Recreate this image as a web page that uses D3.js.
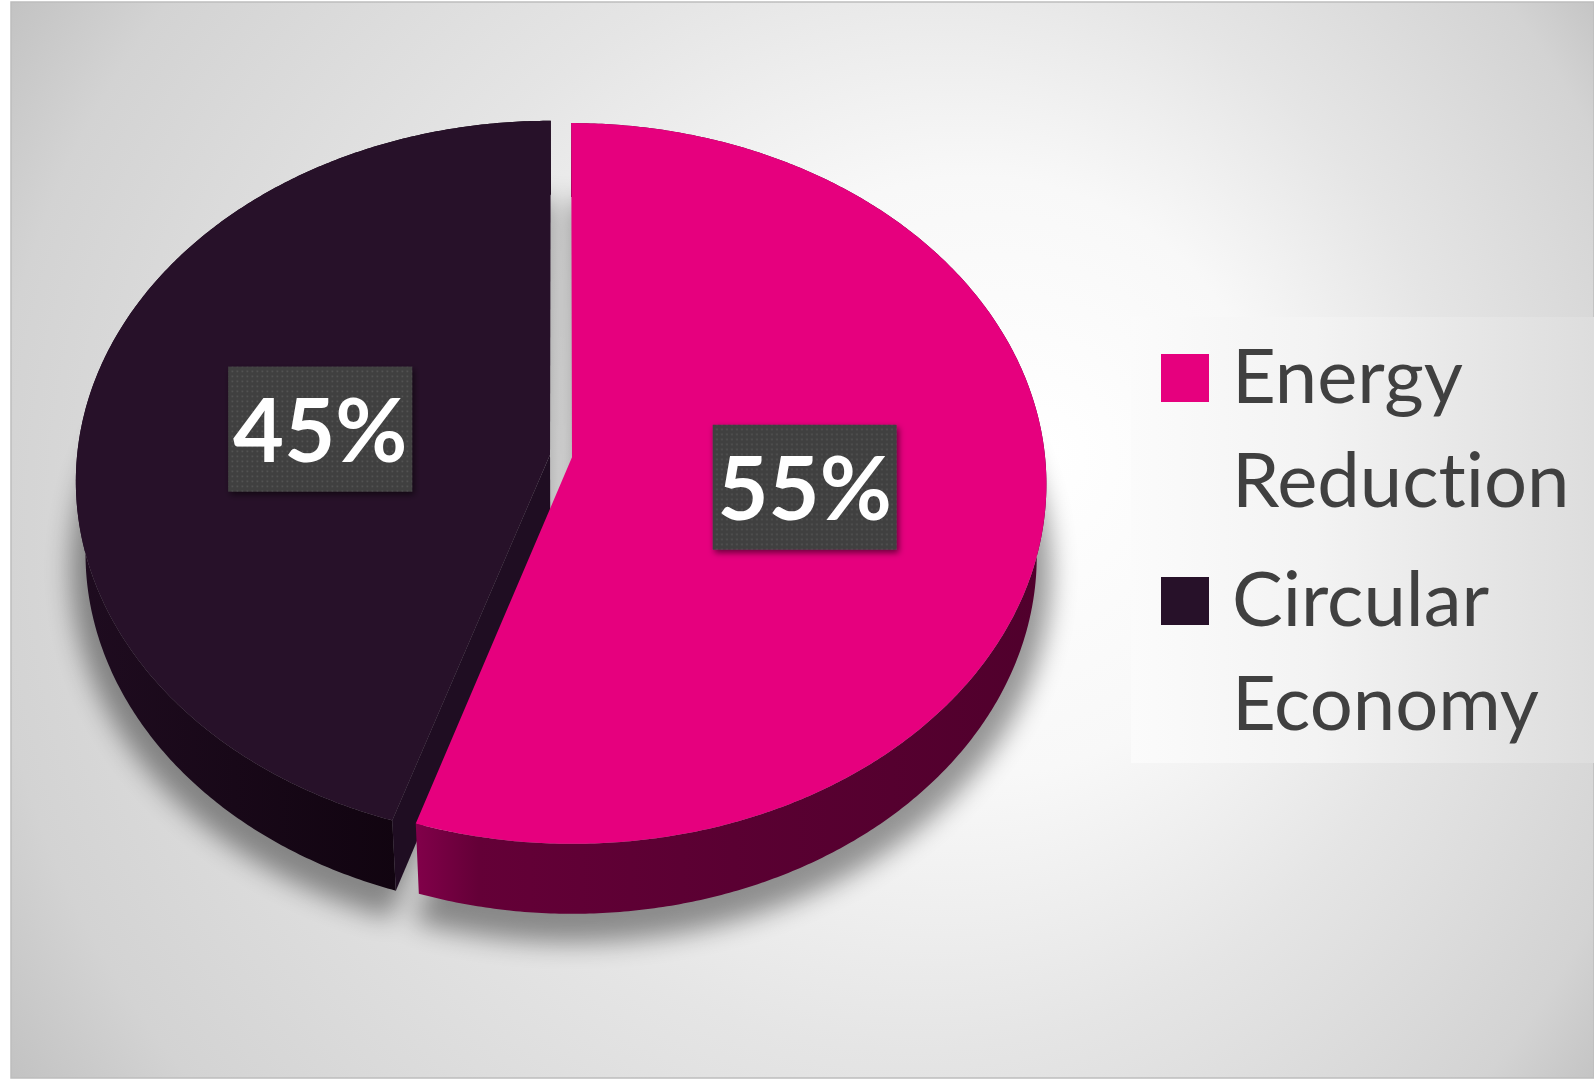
<!DOCTYPE html>
<html><head><meta charset="utf-8">
<script src="https://cdn.jsdelivr.net/npm/d3@7"></script>
<style>html,body{margin:0;padding:0;background:#fff;overflow:hidden} text{font-variant-ligatures:none;font-feature-settings:"liga" 0,"clig" 0}</style>
</head><body>
<svg id="chart" width="1594" height="1081"></svg>
<script>
// ---- data ----
const categories = ["Energy Reduction", "Circular Economy"];
const values = [55, 45];
const percentLabels = ["55%", "45%"];

// ---- setup ----
const W = 1594, H = 1081;
const svg = d3.select("#chart");
const defs = svg.append("defs");

const topColor = d3.scaleOrdinal().domain(categories).range(["#E6007E", "#271129"]);
const faceColor = d3.scaleOrdinal().domain(categories).range(["#6a0039", "#1f0d22"]);

// background gradient
const bg = defs.append("radialGradient").attr("id", "bg").attr("gradientUnits", "userSpaceOnUse")
  .attr("cx", 800).attr("cy", 540).attr("r", 1000).attr("fx", 1050).attr("fy", 450);
[[0, "#ffffff"], [0.3, "#f8f8f8"], [0.55, "#e5e5e5"], [0.85, "#d3d3d3"], [1, "#bdbdbd"]]
  .forEach(([o, c]) => bg.append("stop").attr("offset", o).attr("stop-color", c));

svg.append("rect").attr("x", 11).attr("y", 2).attr("width", W - 11).attr("height", 1076)
  .attr("fill", "url(#bg)").attr("stroke", "#bdbdbd").attr("stroke-width", 1.5);

// side gradients
const gPink = defs.append("linearGradient").attr("id", "sidePink").attr("gradientUnits", "userSpaceOnUse")
  .attr("x1", 415).attr("x2", 1050).attr("y1", 0).attr("y2", 0);
[[0, "#82004a"], [0.1, "#640037"], [0.5, "#5a0032"], [1, "#50002c"]]
  .forEach(([o, c]) => gPink.append("stop").attr("offset", o).attr("stop-color", c));
const gDark = defs.append("linearGradient").attr("id", "sideDark").attr("gradientUnits", "userSpaceOnUse")
  .attr("x1", 70).attr("x2", 400).attr("y1", 0).attr("y2", 0);
[[0, "#1f0c20"], [1, "#110410"]]
  .forEach(([o, c]) => gDark.append("stop").attr("offset", o).attr("stop-color", c));
const sideFill = d3.scaleOrdinal().domain(categories).range(["url(#sidePink)", "url(#sideDark)"]);

// filters
const blur = defs.append("filter").attr("id", "shadowBlur").attr("x", "-20%").attr("y", "-20%").attr("width", "140%").attr("height", "140%");
blur.append("feGaussianBlur").attr("stdDeviation", 13);
const drop = defs.append("filter").attr("id", "boxShadow").attr("x", "-20%").attr("y", "-20%").attr("width", "140%").attr("height", "140%");
drop.append("feDropShadow").attr("dx", 2).attr("dy", 3).attr("stdDeviation", 3).attr("flood-color", "#000").attr("flood-opacity", 0.55);

// dotted pattern
const pat = defs.append("pattern").attr("id", "dots").attr("patternUnits", "userSpaceOnUse").attr("width", 5).attr("height", 5);
pat.append("rect").attr("width", 5).attr("height", 5).attr("fill", "#404040");
pat.append("rect").attr("x", 1.5).attr("y", 1.5).attr("width", 1.6).attr("height", 1.6).attr("fill", "#565656");

// ---- 3D projection ----
const S = 0.7575;
const P = { cx: 561, cy: 456, f: 4257, D: 9, s: S, c: Math.sqrt(1 - S * S), h: 0.24, e: 0.0235 };
function proj(theta, r, y, mid) {
  const X = r * Math.sin(theta) + P.e * Math.sin(mid);
  const A = r * Math.cos(theta) + P.e * Math.cos(mid);
  const up = y * P.c + A * P.s;
  const depth = P.D + A * P.c - y * P.s;
  return [P.cx + P.f * X / depth, P.cy - P.f * up / depth];
}
function arcPts(a0, a1, r, y, mid) {
  const n = Math.max(2, Math.ceil(Math.abs(a1 - a0) / (Math.PI / 360)));
  return d3.range(n + 1).map(i => proj(a0 + (a1 - a0) * i / n, r, y, mid));
}
const line = d3.line();

const pie = d3.pie().sort(null).value(d => d.value);
const arcs = pie(categories.map((c, i) => ({ cat: c, value: values[i], label: percentLabels[i] })));
arcs.forEach(a => a.mid = (a.startAngle + a.endAngle) / 2);

// shadow
const shadowG = svg.append("g").attr("filter", "url(#shadowBlur)").attr("opacity", 0.4);
arcs.forEach(a => {
  const pts = [proj(0, 0, -P.h - 0.05, a.mid)].concat(arcPts(a.startAngle, a.endAngle, 1.035, -P.h - 0.05, a.mid));
  shadowG.append("path").attr("d", line(pts) + "Z").attr("fill", "#000");
});

// draw slices back to front
const order = arcs.slice().sort((a, b) => Math.cos(b.mid) - Math.cos(a.mid));
const pieG = svg.append("g");
order.forEach(a => {
  const g = pieG.append("g");
  const topArc = arcPts(a.startAngle, a.endAngle, 1, 0, a.mid);
  const botArc = arcPts(a.startAngle, a.endAngle, 1, -P.h, a.mid).reverse();
  g.append("path").attr("d", line(topArc.concat(botArc)) + "Z").attr("fill", sideFill(a.data.cat));
  [[a.startAngle, a.startAngle - Math.PI / 2], [a.endAngle, a.endAngle + Math.PI / 2]].forEach(([ang, nrm]) => {
    if (Math.cos(nrm) < -0.01) {
      const pts = [proj(ang, 0, 0, a.mid), proj(ang, 1, 0, a.mid), proj(ang, 1, -P.h, a.mid), proj(ang, 0, -P.h, a.mid)];
      g.append("path").attr("d", line(pts) + "Z").attr("fill", faceColor(a.data.cat));
    }
  });
  const topPts = [proj(0, 0, 0, a.mid)].concat(arcPts(a.startAngle, a.endAngle, 1, 0, a.mid));
  g.append("path").attr("d", line(topPts) + "Z").attr("fill", topColor(a.data.cat));
});

// data labels
const boxW = 184, boxH = 125;
arcs.forEach(a => {
  const [lx, ly] = proj(a.mid, 0.495, 0, a.mid);
  const g = svg.append("g").attr("transform", `translate(${lx},${ly + 2})`);
  g.append("rect").attr("x", -boxW / 2).attr("y", -boxH / 2).attr("width", boxW).attr("height", boxH)
    .attr("fill", "url(#dots)").attr("filter", "url(#boxShadow)");
  g.append("text").attr("x", 0).attr("y", 33).attr("text-anchor", "middle")
    .attr("font-family", "Lato, 'Open Sans', sans-serif").attr("font-weight", "bold").attr("font-size", 88)
    .attr("fill", "#fff").text(a.data.label);
});

// legend
const lgGrad = defs.append("linearGradient").attr("id", "lgGrad");
[[0, "#fbfbfb"], [0.4, "#f3f3f3"], [1, "#dddddd"]].forEach(([o, c]) => lgGrad.append("stop").attr("offset", o).attr("stop-color", c));
svg.append("rect").attr("x", 1131).attr("y", 317).attr("width", W - 1131).attr("height", 446).attr("fill", "url(#lgGrad)");
const legendY = d3.scalePoint().domain(categories).range([354, 577]);
categories.forEach(c => {
  const y0 = legendY(c);
  svg.append("rect").attr("x", 1161).attr("y", y0).attr("width", 48).attr("height", 48).attr("fill", topColor(c));
  c.split(" ").forEach((w, j) => {
    svg.append("text").attr("x", 1232).attr("y", y0 + 49 + j * 104)
      .attr("font-family", "Lato, 'Open Sans', sans-serif").attr("font-size", 76).attr("fill", "#404040").text(w);
  });
});
</script>
</body></html>
